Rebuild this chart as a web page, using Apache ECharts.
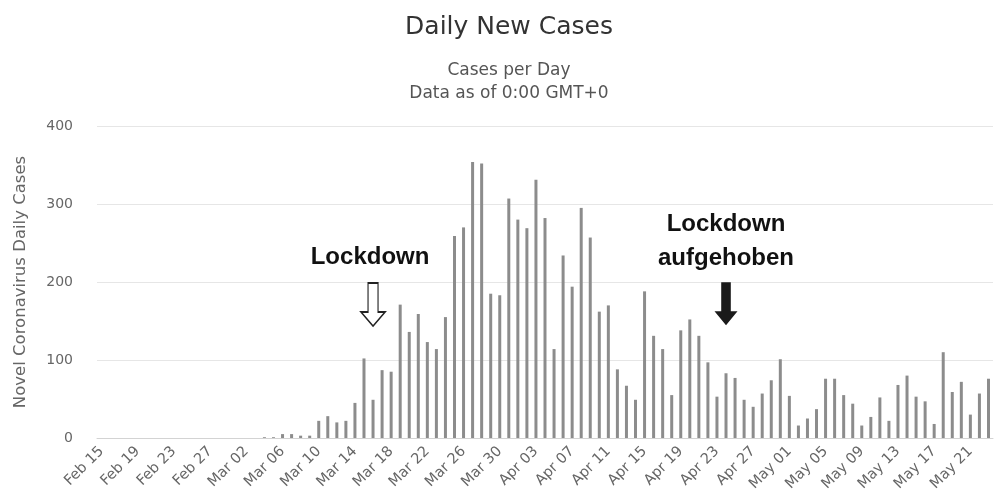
<!DOCTYPE html>
<html>
<head>
<meta charset="utf-8">
<script src="https://cdn.jsdelivr.net/npm/echarts@6/dist/echarts.min.js"></script>
<style>
  html, body { margin: 0; padding: 0; background: #fff; }
  #chart { width: 995px; height: 501px; }
</style>
</head>
<body>
<div id="chart"></div>
<script>
// date ranges shown on the x axis: [month, first day, last day]
var monthSpans = [["Feb", 15, 29], ["Mar", 1, 31], ["Apr", 1, 30], ["May", 1, 23]];

// daily new cases, Feb 15 .. May 23
var dailyCases = [
  0, 0, 0, 0, 0, 0, 0, 0, 0, 0, 0, 0, 0, 0, 0,             // Feb 15-29
  0, 0, 0, 1, 1, 5, 5, 3, 3, 22, 28, 20, 22, 45, 102,       // Mar 1-15
  49, 87, 85, 171, 136, 159, 123, 114, 155, 259, 270, 354, 352, 185, 183, 307, // Mar 16-31
  280, 269, 331, 282, 114, 234, 194, 295, 257, 162, 170, 88, 67, 49, 188,      // Apr 1-15
  131, 114, 55, 138, 152, 131, 97, 53, 83, 77, 49, 40, 57, 74, 101,            // Apr 16-30
  54, 16, 25, 37, 76, 76, 55, 44, 16, 27, 52, 22, 68, 80, 53, 47, 18, 110,     // May 1-18
  59, 72, 30, 57, 76                                                          // May 19-23
];

var yTicks = [0, 100, 200, 300, 400];

// annotations: [label, category, value]
var lockdownText = ["Lockdown", "Mar 16", 231];
var lockdownArrow = ["Mar 16", 171];
var liftedText = ["Lockdown\naufgehoben", "Apr 24", 252];
var liftedArrow = ["Apr 24", 172];

function pad(n) { return n < 10 ? "0" + n : "" + n; }

var categories = [];
monthSpans.forEach(function (m) {
  for (var d = m[1]; d <= m[2]; d++) {
    categories.push(m[0] + " " + pad(d));
  }
});

var arrowPath = "path://M7,0 L17,0 L17,29 L24,29 L12,43 L0,29 L7,29 Z";
var font = "DejaVu Sans";

var chart = echarts.init(document.getElementById("chart"));
chart.setOption({
  backgroundColor: "#fff",
  animation: false,
  title: {
    left: 504,
    textAlign: "center",
    top: 10,
    text: "Daily New Cases",
    textStyle: {
      fontFamily: font,
      fontWeight: "normal",
      fontSize: 25,
      color: "#333"
    },
    subtext: "Cases per Day\nData as of 0:00 GMT+0",
    itemGap: 19,
    subtextStyle: {
      fontFamily: font,
      fontSize: 17,
      lineHeight: 23,
      color: "#555"
    }
  },
  grid: {
    left: 97,
    right: 2,
    top: 126,
    bottom: 63,
    outerBoundsMode: "none"
  },
  xAxis: {
    type: "category",
    data: categories,
    axisLine: { lineStyle: { color: "#d3d3d3", width: 1 } },
    axisTick: { show: false },
    axisLabel: {
      interval: 3,
      rotate: 45,
      margin: 11,
      fontFamily: font,
      fontSize: 14.5,
      color: "#666"
    }
  },
  yAxis: {
    type: "value",
    min: yTicks[0],
    max: yTicks[yTicks.length - 1],
    interval: 100,
    name: "Novel Coronavirus Daily Cases",
    nameLocation: "middle",
    nameGap: 68,
    nameTextStyle: {
      fontFamily: font,
      fontSize: 16.5,
      color: "#666"
    },
    axisLine: { show: false },
    axisTick: { show: false },
    axisLabel: {
      margin: 24,
      fontFamily: font,
      fontSize: 14,
      color: "#666"
    },
    splitLine: { lineStyle: { color: "#e6e6e6", width: 1 } }
  },
  series: [
    {
      name: "Daily Cases",
      type: "bar",
      data: dailyCases,
      barWidth: 3,
      itemStyle: { color: "#8c8c8c" },
      markPoint: {
        silent: true,
        data: [
          {
            coord: [lockdownArrow[0], lockdownArrow[1]],
            symbol: arrowPath,
            symbolSize: [24, 43],
            itemStyle: { color: "#fff", borderColor: "#222", borderWidth: 1.5 },
            label: { show: false }
          },
          {
            coord: [liftedArrow[0], liftedArrow[1]],
            symbol: arrowPath,
            symbolSize: [23, 43],
            itemStyle: { color: "#1a1a1a" },
            label: { show: false }
          },
          {
            coord: [lockdownText[1], lockdownText[2]],
            symbol: "circle",
            symbolSize: 0,
            label: {
              show: true,
              position: "inside",
              offset: [-3, 0],
              formatter: lockdownText[0],
              fontFamily: "Liberation Sans",
              fontWeight: "bold",
              fontSize: 24,
              color: "#111"
            }
          },
          {
            coord: [liftedText[1], liftedText[2]],
            symbol: "circle",
            symbolSize: 0,
            label: {
              show: true,
              position: "inside",
              formatter: liftedText[0],
              fontFamily: "Liberation Sans",
              fontWeight: "bold",
              fontSize: 24,
              lineHeight: 34,
              align: "center",
              color: "#111"
            }
          }
        ]
      }
    }
  ]
});
</script>
</body>
</html>
